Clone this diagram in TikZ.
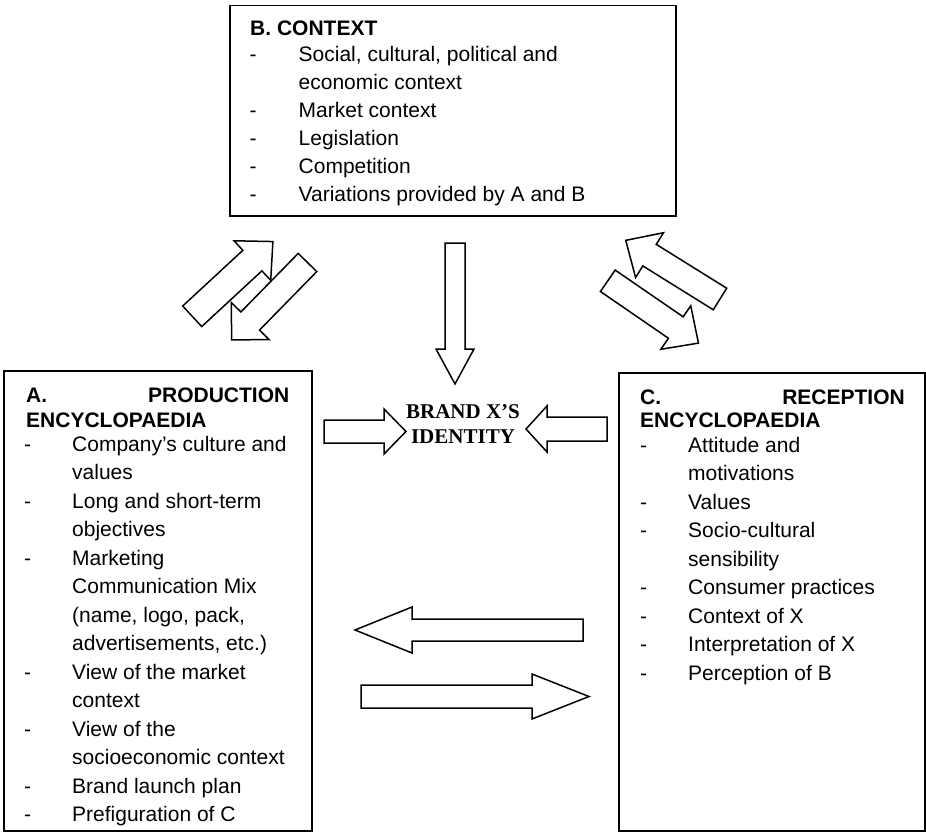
\documentclass[tikz,border=0pt]{standalone}
\usepackage{fontspec}
\setmainfont{Liberation Sans}
\newfontfamily\tnr{Liberation Serif}
\newcommand\blockarrow[7]{%
  \begin{scope}[shift={#2}, rotate=#3]
    \draw[barrow] (0,#6) -- ({#4-#5},#6) -- ({#4-#5},#7) -- (#4,0) -- ({#4-#5},-#7) -- ({#4-#5},-#6) -- (0,-#6) -- cycle;
    \coordinate (#1) at (0,0);
  \end{scope}}
\newcommand\tline[4]{\node[txt] (#1) at (#2,#3) {#4};}
\newcommand\hy[3]{\node[txt] (#1) at (#2,#3) {-};}
\begin{document}
\begin{tikzpicture}[x=1pt,y=-1pt,
  boxfr/.style={draw=black, line width=1.8pt},
  barrow/.style={draw=black, fill=white, line width=1.5pt, line join=miter},
  txt/.style={anchor=base west, inner sep=0pt, font=\fontsize{21}{25}\selectfont},
  hdr/.style={txt, font=\fontsize{21}{25}\selectfont\bfseries},
  brand/.style={anchor=base, inner sep=0pt, font=\fontsize{21}{25}\selectfont\tnr\bfseries}]
\useasboundingbox (0,0) rectangle (926,832);
\fill[white] (0,0) rectangle (926,832);

% boxes
\draw[boxfr] (230,5.5) rectangle (676,216);
\draw[boxfr] (4,371) rectangle (312,830.8);
\draw[boxfr] (619,373) rectangle (925,830.8);

% box B text
\node[hdr] (bh) at (250,35.7) {B. CONTEXT};
\hy{bd1}{249.5}{61.7}\tline{b1}{298.5}{61.7}{Social, cultural, political and}
\tline{b2}{298.5}{89.7}{economic context}
\hy{bd3}{249.5}{117.7}\tline{b3}{298.5}{117.7}{Market context}
\hy{bd4}{249.5}{145.7}\tline{b4}{298.5}{145.7}{Legislation}
\hy{bd5}{249.5}{173.7}\tline{b5}{298.5}{173.7}{Competition}
\hy{bd6}{249.5}{201.7}\tline{b6}{298.5}{201.7}{Variations provided by A and B}

% box A text
\node[hdr] (ah1) at (26,402) {A.};
\node[hdr, anchor=base east] (ah2) at (289.5,402) {PRODUCTION};
\node[hdr] (ah3) at (26,427) {ENCYCLOPAEDIA};
\hy{ad1}{24}{451}\tline{a1}{72}{451}{Company’s culture and}
\tline{a2}{72}{479.5}{values}
\hy{ad3}{24}{508}\tline{a3}{72}{508}{Long and short-term}
\tline{a4}{72}{536.5}{objectives}
\hy{ad5}{24}{565}\tline{a5}{72}{565}{Marketing}
\tline{a6}{72}{593.5}{Communication Mix}
\tline{a7}{72}{622}{(name, logo, pack,}
\tline{a8}{72}{650.5}{advertisements, etc.)}
\hy{ad9}{24}{679}\tline{a9}{72}{679}{View of the market}
\tline{a10}{72}{707.5}{context}
\hy{ad11}{24}{736}\tline{a11}{72}{736}{View of the}
\tline{a12}{72}{764.5}{socioeconomic context}
\hy{ad13}{24}{793}\tline{a13}{72}{793}{Brand launch plan}
\hy{ad14}{24}{821.5}\tline{a14}{72}{821.5}{Prefiguration of C}

% box C text
\node[hdr] (ch1) at (640,404) {C.};
\node[hdr, anchor=base east] (ch2) at (905,404) {RECEPTION};
\node[hdr] (ch3) at (640,427) {ENCYCLOPAEDIA};
\hy{cd1}{640}{452.3}\tline{c1}{688}{452.3}{Attitude and}
\tline{c2}{688}{480.8}{motivations}
\hy{cd3}{640}{509.3}\tline{c3}{688}{509.3}{Values}
\hy{cd4}{640}{537.8}\tline{c4}{688}{537.8}{Socio-cultural}
\tline{c5}{688}{566.3}{sensibility}
\hy{cd6}{640}{594.8}\tline{c6}{688}{594.8}{Consumer practices}
\hy{cd7}{640}{623.3}\tline{c7}{688}{623.3}{Context of X}
\hy{cd8}{640}{651.8}\tline{c8}{688}{651.8}{Interpretation of X}
\hy{cd9}{640}{680.3}\tline{c9}{688}{680.3}{Perception of B}

% centre label
\node[brand] (id1) at (463,418.3) {BRAND X’S};
\node[brand] (id2) at (463,443.3) {IDENTITY};

% block arrows: name, tail centre, angle, length, head length, shaft half, head half
\blockarrow{arAB}{(192.2,316.3)}{42.8}{110}{28}{14}{27}
\blockarrow{arBA}{(307.5,262.5)}{-134.4}{108.4}{26.5}{13}{26.5}
\blockarrow{arCB}{(720,299)}{148.1}{111}{28}{12.7}{26.4}
\blockarrow{arBC}{(607.8,280.8)}{-34.5}{110}{27.5}{13}{26.4}
\blockarrow{arBX}{(455,243)}{-90}{141}{35}{10}{19}
\blockarrow{arAX}{(324,431.5)}{0}{82}{22}{11.5}{22.5}
\blockarrow{arCX}{(607,429)}{180}{81}{21}{12}{23}
\blockarrow{arCA}{(583,630)}{180}{228}{57}{11}{23}
\blockarrow{arAC}{(361,696.5)}{0}{228}{57}{11.5}{22.5}
\end{tikzpicture}
\end{document}
